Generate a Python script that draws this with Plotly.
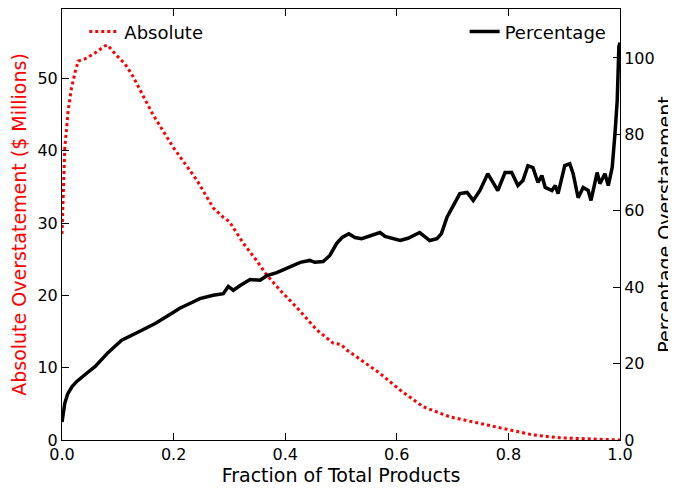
import plotly.graph_objects as go

# Absolute overstatement ($ millions), left axis
abs_x = [0, 0.002, 0.005, 0.011, 0.017, 0.024, 0.029, 0.041, 0.059, 0.077, 0.082, 0.095,
         0.113, 0.127, 0.163, 0.2, 0.242, 0.271, 0.289, 0.3, 0.325, 0.349, 0.367, 0.391,
         0.421, 0.457, 0.486, 0.5, 0.511, 0.528, 0.57, 0.606, 0.647, 0.695, 0.749, 0.797,
         0.844, 0.892, 0.95, 1.0]
abs_y = [28.5, 35, 40.4, 45.5, 48.7, 51, 52.4, 52.7, 53.5, 54.5, 54.6, 53.4,
         52, 50.3, 45, 40.4, 35.9, 32.1, 30.8, 30.2, 27.2, 24.8, 22.8, 20.7,
         18.3, 15.2, 13.4, 13.2, 12.4, 11.5, 9.2, 6.9, 4.6, 3.2, 2.3, 1.4,
         0.7, 0.3, 0.1, 0.0]

# Percentage overstatement, right axis
pct_x = [0, 0.002, 0.005, 0.01, 0.018, 0.027, 0.036, 0.047, 0.059, 0.07, 0.082, 0.094,
         0.107, 0.136, 0.167, 0.197, 0.211, 0.23,
         0.247, 0.271, 0.289, 0.298, 0.307, 0.32, 0.337, 0.355, 0.367, 0.385, 0.403, 0.427,
         0.444, 0.453, 0.468, 0.48, 0.492, 0.502, 0.514, 0.525, 0.537, 0.552, 0.57, 0.579,
         0.593, 0.606, 0.62, 0.629, 0.641, 0.659, 0.672, 0.68, 0.69, 0.7, 0.713, 0.726,
         0.737, 0.749, 0.763, 0.772, 0.781, 0.794, 0.806, 0.817, 0.826, 0.835, 0.844, 0.853,
         0.86, 0.866, 0.878, 0.884, 0.889, 0.901, 0.91, 0.916, 0.925, 0.934, 0.943, 0.948,
         0.959, 0.964, 0.973, 0.979, 0.986, 0.991, 0.995, 0.998, 1.0]
pct_y = [4.7, 7.2, 9.6, 12.0, 14.0, 15.4, 16.6, 17.8, 19.2, 21.0, 22.8, 24.4,
         26.1, 28.2, 30.5, 33.2, 34.5, 35.8,
         37, 37.9, 38.3, 40.2, 39.2, 40.5, 42, 41.8, 43, 43.8, 44.9, 46.5,
         47, 46.5, 46.7, 48.3, 51.4, 53, 54, 53, 52.7, 53.5, 54.3, 53.3,
         52.7, 52.2, 52.8, 53.5, 54.3, 52.2, 52.7, 54, 58.3, 61, 64.5, 64.8,
         62.7, 65.3, 69.7, 67.5, 65.3, 70, 70, 66.6, 67.9, 71.8, 71.3, 67.4,
         69.2, 66.1, 65.3, 66.6, 64.5, 71.8, 72.3, 69.7, 63.4, 66.1, 65.3, 62.7,
         70, 67.1, 69.7, 66.6, 71.3, 80.2, 88.8, 103, 104]

x_ticks = [0.0, 0.2, 0.4, 0.6, 0.8, 1.0]
y1_ticks = [0, 10, 20, 30, 40, 50]
y2_ticks = [0, 20, 40, 60, 80, 100]

FONT = "DejaVu Sans"

fig = go.Figure()
fig.add_trace(go.Scatter(
    x=abs_x, y=abs_y, name="Absolute", mode="lines",
    line=dict(color="#ff0000", width=3, dash="dot"),
    legend="legend", yaxis="y"))
fig.add_trace(go.Scatter(
    x=pct_x, y=pct_y, name="Percentage", mode="lines",
    line=dict(color="black", width=3.5),
    legend="legend2", yaxis="y2"))

axis_common = dict(showgrid=False, zeroline=False, showline=True, linecolor="black",
                   linewidth=1, ticks="inside", ticklen=7, tickcolor="black",
                   automargin=False,
                   tickfont=dict(family=FONT, size=16, color="black"))

# The page body has an 8px default margin, so the figure is sized to fit the window.
fig.update_layout(
    width=668, height=481,
    margin=dict(l=54, r=56, t=1, b=49, autoexpand=False),
    paper_bgcolor="white", plot_bgcolor="white",
    font=dict(family=FONT, color="black"),
    xaxis=dict(range=[0, 1], tickvals=x_ticks, ticktext=[f"{v:.1f}" for v in x_ticks],
               mirror="ticks",
               title=dict(text="Fraction of Total Products", font=dict(family=FONT, size=19),
                          standoff=4),
               **axis_common),
    yaxis=dict(range=[0, 59.6], tickvals=y1_ticks,
               title=dict(text="Absolute Overstatement ($ Millions)",
                          font=dict(family=FONT, size=19, color="#ff0000"), standoff=6),
               **axis_common),
    yaxis2=dict(range=[0, 112.8], tickvals=y2_ticks, overlaying="y", side="right",
                title=dict(text="Percentage Overstatement",
                           font=dict(family=FONT, size=19, color="black"), standoff=6),
                **axis_common),
    legend=dict(x=0.04, y=0.99, xanchor="left", yanchor="top", bgcolor="rgba(0,0,0,0)",
                font=dict(family=FONT, size=18), itemwidth=30),
    legend2=dict(x=0.985, y=0.99, xanchor="right", yanchor="top", bgcolor="rgba(0,0,0,0)",
                 font=dict(family=FONT, size=18), itemwidth=30),
    showlegend=True,
)

fig.write_html("out.html")
